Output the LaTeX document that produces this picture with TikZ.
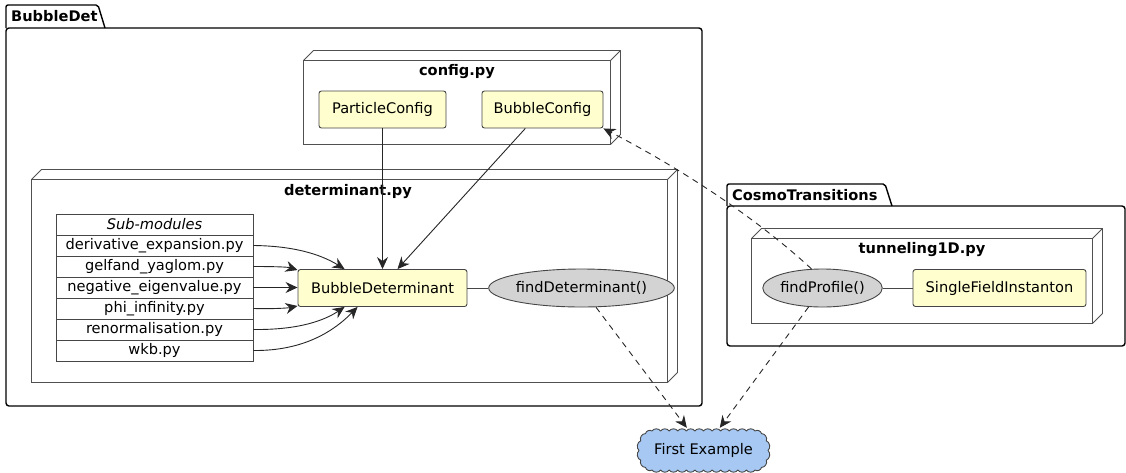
\documentclass[tikz,border=0pt]{standalone}
\usepackage{fontspec}
\setmainfont{DejaVu Sans}
\usetikzlibrary{shapes.geometric,arrows.meta,calc}
\definecolor{cyel}{RGB}{254,254,206}
\definecolor{cgray}{RGB}{211,211,211}
\definecolor{cblue}{RGB}{166,200,242}
\definecolor{cline}{RGB}{70,70,70}
\definecolor{cframe}{RGB}{80,80,80}
\tikzset{
  pkg/.style={draw=black, line width=1.4pt},
  frame3d/.style={draw=cframe, line width=0.9pt, line join=miter},
  cls/.style={draw=cline, fill=cyel, rounded corners=2.5pt, line width=0.9pt, inner sep=0pt, minimum height=37},
  fn/.style={ellipse, draw=cline, fill=cgray, line width=0.9pt, inner sep=0pt, minimum height=38},
  row/.style={draw=cline, fill=white, line width=0.9pt, inner sep=0pt, minimum width=197, minimum height=21},
  ttl/.style={font=\fontsize{14.6}{17}\selectfont\bfseries},
  arr/.style={draw=black!85, line width=0.9pt, -{Stealth[length=12pt,width=11pt,inset=4pt]}},
  darr/.style={arr, dash pattern=on 6pt off 5pt},
  lnk/.style={draw=cline, line width=0.9pt},
  cloudsty/.style={draw=cline, fill=cblue, line width=0.9pt, line join=round}
}
\begin{document}
\begin{tikzpicture}[x=1pt,y=-1pt,font=\fontsize{14.6}{17}\selectfont]
\useasboundingbox (0,0) rectangle (1126,472);

% BubbleDet package
\draw[pkg, rounded corners=3pt] (6,28) rectangle (702,406);
\draw[pkg] (6,28) -- (6,8) [rounded corners=2pt] -- (6,5) -- (98,5) [sharp corners] -- (105,28);
\node[ttl, anchor=west, inner sep=0pt] (tbd) at (11,16.5) {BubbleDet};

% CosmoTransitions package
\draw[pkg, rounded corners=3pt] (727,206) rectangle (1125,346);
\draw[pkg] (727,206) -- (727,187) [rounded corners=2pt] -- (727,184) -- (885,184) [sharp corners] -- (892,206);
\node[ttl, anchor=west, inner sep=0pt] (tct) at (732,195.5) {CosmoTransitions};

% config.py node
\draw[frame3d] (303.5,60.5) rectangle (610.5,144.5);
\draw[frame3d] (303.5,60.5) -- (313.5,50.5) -- (620.5,50.5) -- (620.5,134.5) -- (610.5,144.5);
\draw[frame3d] (610.5,60.5) -- (620.5,50.5);
\node[ttl] (tcfg) at (457,72) {config.py};

% determinant.py node
\draw[frame3d] (31.5,179.5) rectangle (667.5,382.5);
\draw[frame3d] (31.5,179.5) -- (41.5,169.5) -- (677.5,169.5) -- (677.5,372.5) -- (667.5,382.5);
\draw[frame3d] (667.5,179.5) -- (677.5,169.5);
\node[ttl] (tdet) at (348,192) {determinant.py};

% tunneling1D.py node
\draw[frame3d] (751.5,238.5) rectangle (1092.5,323.5);
\draw[frame3d] (751.5,238.5) -- (761.5,228.5) -- (1102.5,228.5) -- (1102.5,313.5) -- (1092.5,323.5);
\draw[frame3d] (1092.5,238.5) -- (1102.5,228.5);
\node[ttl] (ttun) at (922,250) {tunneling1D.py};

% classes
\node[cls, minimum width=127] (pc) at (382.5,109.5) {ParticleConfig};
\node[cls, minimum width=121] (bc) at (542.5,109.5) {BubbleConfig};
\node[cls, minimum width=169] (bd) at (382.5,288) {BubbleDeterminant};
\node[fn, minimum width=157] (fd) at (581.5,288) {findDeterminant()};
\node[fn, minimum width=109] (fp) at (822.5,288) {findProfile()};
\node[cls, minimum width=173] (sfi) at (999.5,288) {SingleFieldInstanton};

% table
\node[row] (hd) at (154.5,224.5) {\itshape Sub-modules};
\node[row] (r1) at (154.5,245.5) {derivative\_expansion.py};
\node[row] (r2) at (154.5,266.5) {gelfand\_yaglom.py};
\node[row] (r3) at (154.5,287.5) {negative\_eigenvalue.py};
\node[row] (r4) at (154.5,308.5) {phi\_infinity.py};
\node[row] (r5) at (154.5,329.5) {renormalisation.py};
\node[row] (r6) at (154.5,350.5) {wkb.py};

% cloud
\draw[cloudsty] (652,431)
  \foreach \i in {1,...,12}{ to[bend left=60] ({652+8.583*\i},431) }
  \foreach \a in {-60,-30,...,90}{ to[bend left=60] ({755+13*cos(\a)},{450.5+19.5*sin(\a)}) }
  \foreach \i in {1,...,12}{ to[bend left=60] ({755-8.583*\i},470) }
  \foreach \a in {120,150,...,270}{ to[bend left=60] ({652+13*cos(\a)},{450.5+19.5*sin(\a)}) }
  -- cycle;
\node[minimum width=131, minimum height=44, inner sep=0pt] (ex) at (703.5,450) {First Example};

% links
\draw[lnk] (bd) -- (fd);
\draw[lnk] (fp) -- (sfi);

% arrows from table
\draw[arr] (r1.east) .. controls (300,246) and (325,257) .. ($(bd.north west)+(47,0)$);
\draw[arr] (r2.east) .. controls (275,266.5) and (288,267) .. ($(bd.north west)+(0,1)$);
\draw[arr] (r3.east) -- (bd.west |- r3.east);
\draw[arr] (r4.east) .. controls (275,309) and (288,308) .. ($(bd.south west)+(0,-1)$);
\draw[arr] (r5.east) .. controls (300,330) and (325,320) .. ($(bd.south west)+(47,0)$);
\draw[arr] (r6.east) .. controls (305,351) and (335,330) .. ($(bd.south west)+(60,0)$);

% arrows from config
\draw[arr] (pc.south) -- (bd.north);
\draw[arr] (bc) -- ($(bd.north)+(15,0)$);

% dashed arrows
\draw[darr] (fd) -- (ex);
\draw[darr] (fp) -- (ex);
\draw[darr] (fp.120) .. controls (752,214) and (674,165) .. (bc.south east);
\end{tikzpicture}
\end{document}
